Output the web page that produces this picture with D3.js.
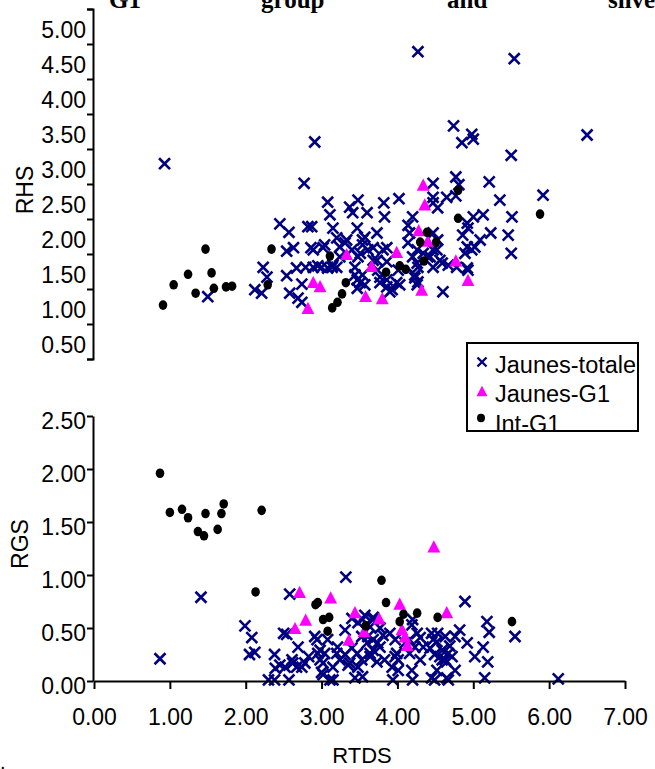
<!DOCTYPE html>
<html><head><meta charset="utf-8">
<script src="https://cdn.jsdelivr.net/npm/d3@7"></script>
<style>
body{margin:0;background:#fff}
svg{display:block}
text{font-family:"Liberation Sans",Arial,sans-serif;fill:#000}
</style>
</head><body>
<svg id="c" width="655" height="769"></svg>
<script>
// ---------------- data ----------------
const xTicks = [0, 1, 2, 3, 4, 5, 6, 7];
const rhsTickMarks = [0.25, 0.75, 1.25, 1.75, 2.25, 2.75, 3.25, 3.75, 4.25, 4.75, 5.25];
const rhsLabels = [0.5, 1.0, 1.5, 2.0, 2.5, 3.0, 3.5, 4.0, 4.5, 5.0];
const rgsTicks = [0, 0.5, 1.0, 1.5, 2.0, 2.5];
const seriesNames = ["Jaunes-totale", "Jaunes-G1", "Int-G1"];
const captionWords = ["G1", "group", "and", "silve"];

// top panel: RTDS vs RHS
const topCross = [
[0.93,3.04],[2.91,3.35],[2.77,2.76],[1.50,1.14],[2.45,2.18],[2.57,2.06],[2.12,1.24],[2.21,1.19],[2.23,1.56],[2.28,1.42],
[2.54,1.79],[2.63,1.84],[2.54,1.44],[2.67,1.55],[2.74,1.32],[2.58,1.19],[2.69,1.12],[2.74,1.06],[2.82,2.14],[2.87,2.14],
[2.86,1.84],[2.89,1.81],[3.02,1.84],[2.79,1.56],[2.89,1.56],[2.95,1.58],[3.08,2.49],[3.11,2.31],[3.08,1.55],[3.37,2.42],
[3.48,2.52],[3.41,2.34],[3.60,2.34],[3.82,2.48],[3.83,2.28],[3.15,2.12],[3.20,1.98],[3.47,2.12],[3.31,1.91],[3.57,1.99],
[3.73,2.05],[3.24,1.85],[3.40,1.81],[3.54,1.88],[3.68,1.84],[3.81,1.81],[3.24,1.71],[3.48,1.71],[3.14,1.56],[3.20,1.56],
[3.44,1.56],[3.73,1.66],[3.44,1.45],[3.51,1.34],[3.57,1.31],[3.47,1.26],[3.74,1.52],[3.77,1.34],[3.86,1.28],
[4.27,4.64],[5.54,4.54],[4.74,3.58],[4.98,3.46],[4.85,3.34],[5.00,3.39],[6.50,3.45],[5.50,3.16],[4.77,2.85],[5.21,2.78],
[4.47,2.76],[5.92,2.59],[5.35,2.52],[4.81,2.74],[4.47,2.56],[4.65,2.56],[4.77,2.58],[4.53,2.41],[4.02,2.54],[4.20,2.28],
[4.14,2.16],[4.16,2.05],[5.51,2.28],[5.13,2.31],[5.00,2.28],[4.92,2.19],[4.93,2.12],[4.86,2.02],[5.23,2.05],[5.46,2.02],
[5.09,1.95],[5.50,1.76],[4.92,1.85],[4.98,1.81],[5.02,1.85],[4.89,1.76],[4.47,2.05],[4.52,1.81],[4.34,1.76],[4.43,1.71],
[4.59,1.62],[4.67,1.59],[4.47,1.56],[4.92,1.55],[4.14,1.91],[4.26,1.81],[4.26,1.62],[4.23,1.45],[4.27,1.35],[4.60,1.21],
[3.99,1.34],[3.93,1.24],[3.77,1.42],[3.68,1.66],[3.86,1.64],[3.61,1.81],[3.51,1.76],[3.54,1.95],[3.33,1.95],[3.04,1.88],
[3.15,1.59],[3.00,1.56],[3.54,1.45],[3.47,1.38],[4.47,2.48],[4.53,1.95],[4.47,1.81],[4.40,1.71],[4.56,1.66],[4.78,1.56],
[4.93,1.52],[4.20,1.71],[4.27,1.56],[4.23,1.41],[4.26,1.31],[4.01,1.52],[4.03,1.31],[3.90,1.21],[3.86,1.38],[3.86,1.84]
];
const topTri = [
[2.82,0.98],[2.89,1.35],[2.98,1.29],[3.33,1.75],[3.58,1.15],[3.66,1.58],[3.80,1.12],[3.99,1.78],
[4.28,2.09],[4.32,1.24],[4.34,2.74],[4.36,2.46],[4.40,1.94],[4.77,1.66],[4.93,1.38]
];
const topDot = [
[0.91,1.02],[1.05,1.31],[1.24,1.46],[1.34,1.19],[1.47,1.82],[1.55,1.48],[1.58,1.26],[1.74,1.28],[1.82,1.29],
[2.29,1.31],[2.34,1.82],[3.11,1.72],[3.14,0.98],[3.21,1.06],[3.27,1.18],[3.32,1.34],[3.85,1.49],[4.03,1.58],
[4.11,1.53],[4.30,1.92],[4.35,1.65],[4.39,2.06],[4.51,1.92],[4.80,2.66],[4.80,2.26],[5.88,2.32]
];

// bottom panel: RTDS vs RGS
const botCross = [
[0.87,0.21],[1.41,0.79],[1.99,0.52],[2.08,0.41],[2.05,0.25],[2.12,0.27],[2.30,0.01],[2.38,0.01],[2.39,0.12],[2.38,0.25],
[2.45,0.15],[2.57,0.01],[2.58,0.82],[2.50,0.45],[2.54,0.44],[2.62,0.17],[2.69,0.32],[2.67,0.13],[2.74,0.13],[2.78,0.17],
[2.83,0.23],[2.91,0.42],[2.94,0.39],[2.95,0.26],[2.98,0.20],[3.00,0.08],[3.08,0.39],[3.32,0.98],[2.61,0.20],[2.52,0.13],
[2.98,0.29],[3.02,0.06],[3.11,0.01],[3.20,0.26],[3.15,0.13],[3.31,0.25],[3.40,0.31],[3.37,0.17],[3.48,0.13],[3.44,0.03],
[3.54,0.04],[3.53,0.20],[3.60,0.36],[3.64,0.26],[3.68,0.39],[3.73,0.18],[3.68,0.60],[3.40,0.59],[3.31,0.48],[3.48,0.55],
[3.57,0.62],[3.64,0.51],[3.53,0.42],[4.89,0.75],[5.18,0.56],[5.21,0.46],[5.55,0.42],[5.13,0.32],[5.02,0.23],[5.19,0.18],
[5.15,0.03],[6.12,0.02],[4.92,0.36],[4.82,0.48],[4.76,0.10],[4.67,0.01],[4.49,0.01],[4.20,0.01],[3.94,0.01],[3.15,0.01],
[4.63,0.20],[4.67,0.26],[4.56,0.23],[4.47,0.39],[4.53,0.45],[4.63,0.42],[4.30,0.20],[4.23,0.32],[4.26,0.45],[4.20,0.58],
[4.16,0.39],[3.97,0.23],[3.93,0.13],[4.01,0.10],[3.97,0.39],[3.90,0.45],[3.83,0.20],[3.77,0.32],[3.61,0.42],[3.54,0.58],
[3.21,0.32],[3.24,0.20],[3.35,0.15],[3.47,0.26],[3.04,0.26],[3.02,0.17],[4.19,0.10],[4.16,0.26],[4.10,0.36],[4.01,0.20],
[4.76,0.42],[4.69,0.33],[4.59,0.29],[4.72,0.23],[4.65,0.18],[4.49,0.25],[4.52,0.10],[4.45,0.03],[4.65,0.03],[4.34,0.32],
[4.30,0.41],[4.19,0.53],[4.45,0.45],[4.52,0.37],[4.43,0.31],[3.99,0.26],[3.81,0.43],[3.74,0.36],[3.77,0.50],[3.68,0.29],
[3.64,0.23],[3.68,0.58],[4.59,0.20]
];
const botTri = [
[2.65,0.50],[2.71,0.84],[2.79,0.58],[3.12,0.79],[3.36,0.39],[3.44,0.65],[3.56,0.47],
[3.76,0.59],[4.03,0.73],[4.06,0.49],[4.10,0.42],[4.13,0.34],[4.48,1.27],[4.65,0.65]
];
const botDot = [
[0.87,1.96],[1.00,1.59],[1.16,1.62],[1.24,1.54],[1.37,1.41],[1.45,1.37],[1.47,1.58],[1.63,1.43],[1.68,1.58],
[1.71,1.67],[2.21,1.61],[2.13,0.84],[2.92,0.72],[2.95,0.74],[3.02,0.58],[3.10,0.60],[3.08,0.47],[3.58,0.52],
[3.79,0.95],[3.85,0.74],[4.03,0.56],[4.08,0.63],[4.26,0.64],[4.53,0.60],[5.51,0.56]
];

// ---------------- chart ----------------
const svg = d3.select("#c");
const NAVY = "#000080", MAG = "#FF00FF";
const FS = 23;

const x = d3.scaleLinear().domain([0, 7]).range([94, 625]);
const yTop = d3.scaleLinear().domain([0.25, 5.25]).range([359, 9]);
const yBot = d3.scaleLinear().domain([0, 2.5]).range([681, 416]);

// triangle centred on its bounding box
const triBox = { draw(ctx, size) { const h = Math.sqrt(size), w = h * 1.05;
  ctx.moveTo(0, -h / 2); ctx.lineTo(w / 2, h / 2); ctx.lineTo(-w / 2, h / 2); ctx.closePath(); } };
const crossSym = d3.symbol().type(d3.symbolTimes).size(80)();
const triSym = d3.symbol().type(triBox).size(150)();

// caption fragment (cut off at top of the crop)
svg.append("g").selectAll("text").data(captionWords).join("text")
  .attr("x", (d, i) => [109, 261, 447, 608][i]).attr("y", 8)
  .style("font-family", '"Liberation Serif","Times New Roman",serif')
  .style("font-weight", "bold").style("font-size", "25px").text(d => d);

function styleAxis(g) {
  g.selectAll("path,line").attr("stroke", "#000").attr("stroke-width", 2);
  g.selectAll("text").attr("font-size", FS).attr("font-family", null);
}

function drawPoints(g, yS, cross, tri, dot) {
  g.append("g").selectAll("path").data(cross).join("path")
    .attr("d", crossSym).attr("transform", d => `translate(${x(d[0])},${yS(d[1])})`)
    .attr("fill", "none").attr("stroke", NAVY).attr("stroke-width", 2.6);
  g.append("g").selectAll("path").data(tri).join("path")
    .attr("d", triSym).attr("transform", d => `translate(${x(d[0])},${yS(d[1])})`)
    .attr("fill", MAG);
  g.append("g").selectAll("ellipse").data(dot).join("ellipse")
    .attr("cx", d => x(d[0])).attr("cy", d => yS(d[1])).attr("rx", 4.3).attr("ry", 4.8)
    .attr("fill", "#000");
}

// ---- top panel ----
const gTop = svg.append("g");
drawPoints(gTop, yTop, topCross, topTri, topDot);
const axT = gTop.append("g").attr("transform", "translate(93,0)")
  .call(d3.axisLeft(yTop).tickValues(rhsTickMarks).tickSize(6).tickFormat(""));
styleAxis(axT);
axT.append("g").selectAll("text").data(rhsLabels).join("text")
  .attr("x", -7).attr("y", d => yTop(d)).attr("dy", 11.5)
  .attr("text-anchor", "end").attr("font-size", FS).text(d3.format(".2f"));
svg.append("text").attr("transform", "translate(33,190) rotate(-90)")
  .attr("text-anchor", "middle").attr("font-size", 23).text("RHS");

// ---- bottom panel ----
const gBot = svg.append("g");
drawPoints(gBot, yBot, botCross, botTri, botDot);
const axB = gBot.append("g").attr("transform", "translate(93,0)")
  .call(d3.axisLeft(yBot).tickValues(rgsTicks).tickSize(6).tickSizeOuter(0).tickFormat(d3.format(".2f")));
styleAxis(axB);
axB.selectAll(".tick text").attr("x", -7).attr("dy", 12);
const axX = gBot.append("g").attr("transform", "translate(0,681)")
  .call(d3.axisBottom(x).tickValues(xTicks).tickSize(8).tickSizeOuter(0).tickFormat(d3.format(".2f")));
styleAxis(axX);
axX.selectAll(".tick text").attr("y", 44).attr("dy", 0);
svg.append("text").attr("transform", "translate(28,544) rotate(-90)")
  .attr("text-anchor", "middle").attr("font-size", 23).text("RGS");
svg.append("text").attr("x", 362).attr("y", 763)
  .attr("text-anchor", "middle").attr("font-size", 22).text("RTDS");

// ---- legend ----
const leg = svg.append("g");
leg.append("clipPath").attr("id", "legclip").append("rect")
  .attr("x", 467).attr("y", 343).attr("width", 171).attr("height", 87);
leg.append("rect").attr("x", 467).attr("y", 343).attr("width", 171).attr("height", 88)
  .attr("fill", "#fff").attr("stroke", "#000").attr("stroke-width", 2);
const rowY = [362, 391, 420];
const li = leg.append("g").attr("clip-path", "url(#legclip)");
li.append("path").attr("d", d3.symbol().type(d3.symbolTimes).size(55)())
  .attr("transform", `translate(482,${rowY[0]})`).attr("fill", "none").attr("stroke", NAVY).attr("stroke-width", 2.4);
li.append("path").attr("d", d3.symbol().type(triBox).size(110)())
  .attr("transform", `translate(482,${rowY[1]})`).attr("fill", MAG);
li.append("ellipse").attr("cx", 481).attr("cy", rowY[2] - 2).attr("rx", 4).attr("ry", 4.2).attr("fill", "#000");
li.selectAll("text").data(seriesNames).join("text")
  .attr("x", 495).attr("y", (d, i) => rowY[i] + 11 + (i === 2 ? 1 : 0)).attr("font-size", 23.5).text(d => d);

// stray period from the surrounding document
svg.append("text").attr("x", 0).attr("y", 769).attr("font-size", 20).text(".");
</script>
</body></html>
